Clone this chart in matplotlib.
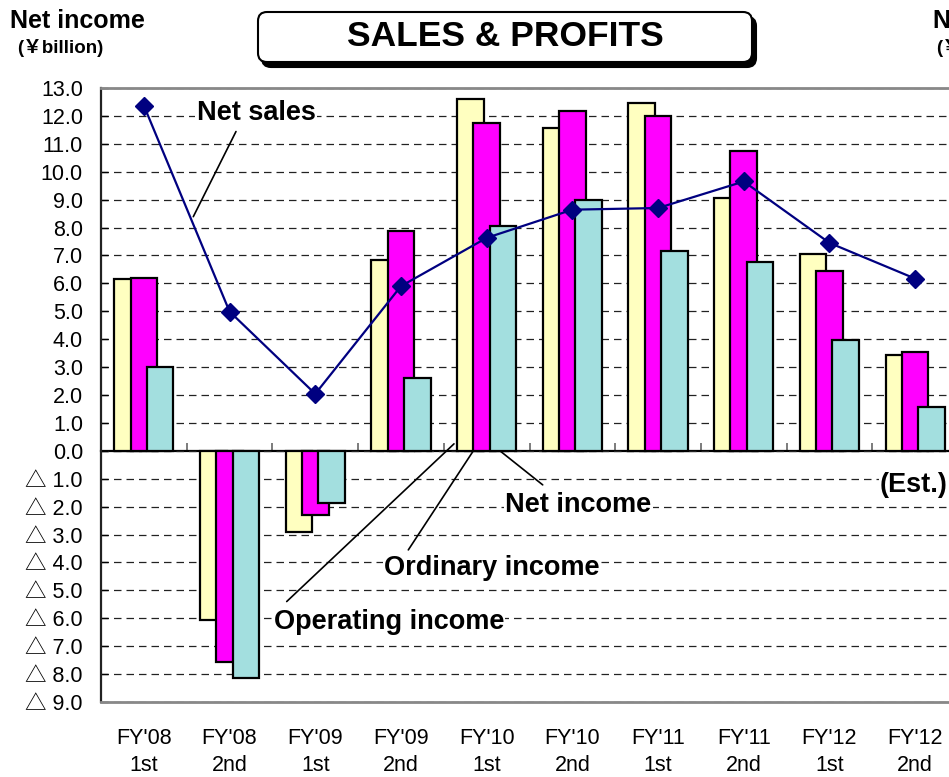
import matplotlib
matplotlib.use('Agg')
import matplotlib.pyplot as plt
from matplotlib.patches import FancyBboxPatch
from matplotlib.transforms import IdentityTransform
import numpy as np

plt.rcParams['font.family'] = ['Liberation Sans', 'DejaVu Sans']

periods = ["FY'08\n1st", "FY'08\n2nd", "FY'09\n1st", "FY'09\n2nd", "FY'10\n1st",
           "FY'10\n2nd", "FY'11\n1st", "FY'11\n2nd", "FY'12\n1st", "FY'12\n2nd"]
operating_income = [6.15, -6.06, -2.90, 6.85, 12.60, 11.55, 12.48, 9.06, 7.06, 3.45]
ordinary_income = [6.20, -7.55, -2.31, 7.86, 11.76, 12.19, 11.98, 10.75, 6.46, 3.55]
net_income = [3.00, -8.14, -1.86, 2.60, 8.07, 8.98, 7.15, 6.78, 3.96, 1.58]
net_sales = [12.37, 4.99, 2.04, 5.90, 7.63, 8.64, 8.70, 9.65, 7.45, 6.17]
ytick_values = list(range(-9, 14))

W, H = 949, 777
fig = plt.figure(figsize=(W / 100, H / 100), dpi=100)
ax = fig.add_axes([101 / W, 75 / H, 857 / W, 614 / H])

x = np.arange(len(periods))
bw = 0.31
off = 0.19
ax.bar(x - off, operating_income, bw, color='#FFFFC0', edgecolor='black', linewidth=1.6, zorder=3)
ax.bar(x, ordinary_income, bw, color='#FF00FF', edgecolor='black', linewidth=1.6, zorder=4)
ax.bar(x + off, net_income, bw, color='#A3DFDF', edgecolor='black', linewidth=1.6, zorder=5)
ax.plot(x, net_sales, color='#000080', lw=1.6, marker='D', markersize=9.5,
        markerfacecolor='#000080', markeredgecolor='#000080', zorder=8)

ax.set_xlim(-0.5, len(periods) - 0.5)
ax.set_ylim(-9, 13)
ax.set_yticks(ytick_values)
ax.set_yticklabels([f"{v:.1f}" if v >= 0 else f"\u25b3 {-v:.1f}" for v in ytick_values])
for t in ax.get_yticklabels():
    t.set_family(['Liberation Sans', 'Noto Sans CJK JP'])
ax.tick_params(axis='y', direction='in', length=5, width=1, pad=13, labelsize=15.5)
ax.set_xticks(x)
ax.set_xticklabels(periods, fontsize=15.5, linespacing=1.35)
ax.tick_params(axis='x', length=0, pad=19)

ax.yaxis.grid(True, color='#222222', linestyle=(0, (6, 4)), linewidth=0.9)
ax.set_axisbelow(True)
for s in ['top', 'bottom', 'right']:
    ax.spines[s].set_color('#888888')
    ax.spines[s].set_linewidth(2)
ax.spines['left'].set_color('#222222')
ax.spines['left'].set_linewidth(1.6)

# zero axis with category boundary ticks
zero_loc = (0 - ax.get_ylim()[0]) / (ax.get_ylim()[1] - ax.get_ylim()[0])
sec = ax.secondary_xaxis(zero_loc)
sec.set_xticks(x[:-1] + 0.5)
sec.set_xticklabels([])
sec.tick_params(direction='in', length=6, width=1.2, color='#666666')
sec.spines['bottom'].set_linewidth(1.6)
sec.spines['bottom'].set_color('black')
sec.spines['top'].set_linewidth(1.6)
sec.spines['top'].set_color('black')

lab_kw = dict(fontsize=19.5, weight='bold', ha='center', va='center', zorder=10,
              bbox=dict(facecolor='white', edgecolor='none', pad=1))
ax.text(1.31, 12.11, 'Net sales', **lab_kw)
ax.text(5.07, -1.93, 'Net income', **lab_kw)
ax.text(4.06, -4.19, 'Ordinary income', **lab_kw)
ax.text(2.86, -6.12, 'Operating income', **lab_kw)
ax.text(8.59, -1.22, '(Est.)', fontsize=19.5, weight='bold', ha='left', va='center', zorder=10,
        bbox=dict(facecolor='white', edgecolor='none', pad=1))

line_kw = dict(arrowprops=dict(arrowstyle='-', lw=1.2, color='black', shrinkA=0, shrinkB=0))
ax.annotate('', xy=(0.577, 8.39), xytext=(1.075, 11.44), **line_kw)
ax.annotate('', xy=(3.619, 0.25), xytext=(1.667, -5.40), **line_kw)
ax.annotate('', xy=(3.896, 0.24), xytext=(3.086, -3.55), **line_kw)
ax.annotate('', xy=(4.106, 0.12), xytext=(4.654, -1.22), **line_kw)

# header texts (right-hand ones are cut by the image edge, as in the reference)
fig.text(10 / W, 1 - 21 / H, 'Net income', fontsize=18, weight='bold', ha='left', va='center')
fig.text(17 / W, 1 - 48 / H, '(\uffe5billion)', fontsize=13.5, weight='bold', ha='left', va='center',
         family=['Liberation Sans', 'Noto Sans CJK JP'])
fig.text(933 / W, 1 - 21 / H, 'Net sales', fontsize=18, weight='bold', ha='left', va='center')
fig.text(936 / W, 1 - 48 / H, '(\uffe5billion)', fontsize=13.5, weight='bold', ha='left', va='center',
         family=['Liberation Sans', 'Noto Sans CJK JP'])

# title box with shadow
shadow = FancyBboxPatch((262, 777 - 67), 494, 50, boxstyle="round,pad=0,rounding_size=9",
                        transform=IdentityTransform(), facecolor='black', edgecolor='black', lw=1.5)
box = FancyBboxPatch((258, 777 - 62), 494, 50, boxstyle="round,pad=0,rounding_size=9",
                     transform=IdentityTransform(), facecolor='white', edgecolor='black', lw=1.5)
fig.add_artist(shadow)
fig.add_artist(box)
fig.text(505 / W, 1 - 37 / H, 'SALES & PROFITS', fontsize=25.5, weight='bold', ha='center', va='center')

fig.savefig('out.png', dpi=100)
